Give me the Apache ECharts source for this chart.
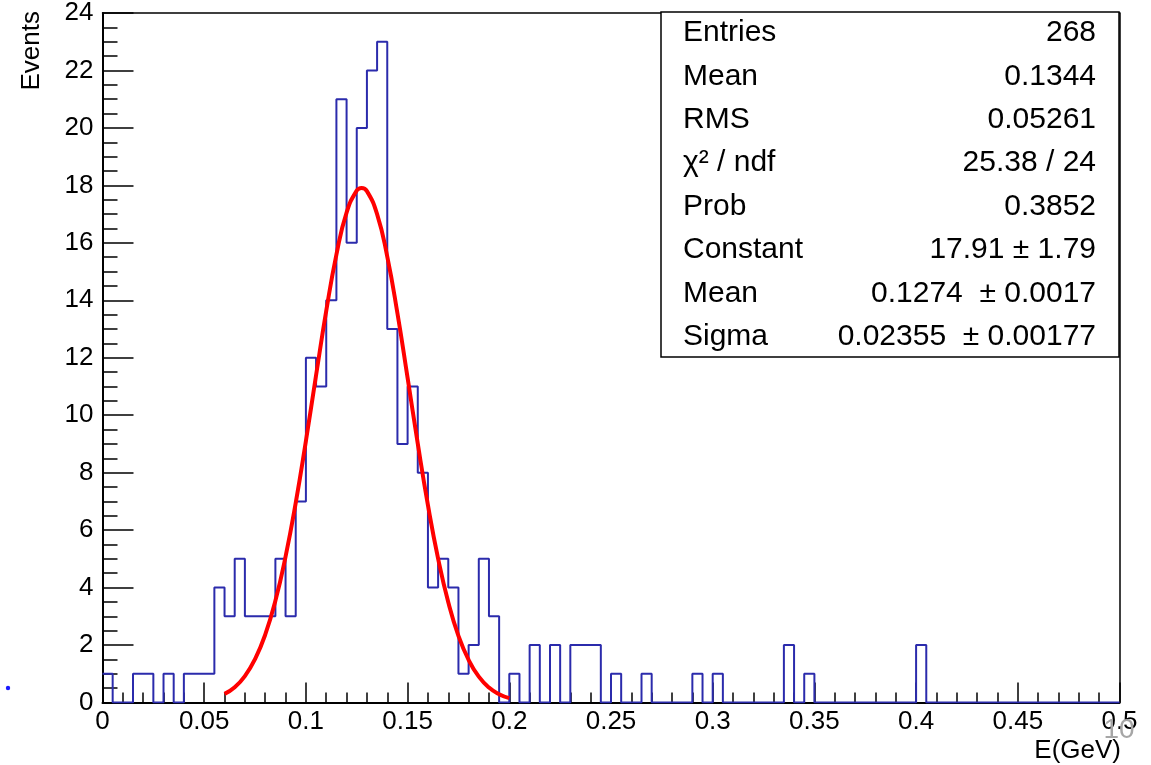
<!DOCTYPE html>
<html lang="en">
<head>
    <meta charset="UTF-8">
    <title>E(GeV) histogram with gaus fit</title>
    <script src="https://cdn.jsdelivr.net/npm/echarts/dist/echarts.min.js"></script>
    <style>
        html, body { margin: 0; padding: 0; background: #fff; }
    </style>
</head>
<body>
    <div id="main" style="width: 1151px;height:765px;"></div>
    <script type="text/javascript">
        // histogram: 100 bins, 0 -> 0.5 GeV
        let xMin = 0;
        let binWidth = 0.005;
        let binCounts = [
            1, 0, 0, 1, 1, 0, 1, 0, 1, 1,
            1, 4, 3, 5, 3, 3, 3, 5, 3, 7,
            12, 11, 14, 21, 16, 20, 22, 23, 13, 9,
            11, 8, 4, 5, 4, 1, 2, 5, 3, 0,
            1, 0, 2, 0, 2, 0, 2, 2, 2, 0,
            1, 0, 0, 1, 0, 0, 0, 0, 1, 0,
            1, 0, 0, 0, 0, 0, 0, 2, 0, 1,
            0, 0, 0, 0, 0, 0, 0, 0, 0, 0,
            2, 0, 0, 0, 0, 0, 0, 0, 0, 0,
            0, 0, 0, 0, 0, 0, 0, 0, 0, 0
        ];

        // red fit curve
        let fitX = [0.06, 0.065, 0.07, 0.075, 0.08, 0.085, 0.09, 0.095, 0.10, 0.105,
                    0.11, 0.115, 0.12, 0.125, 0.1274, 0.13, 0.135, 0.14, 0.145, 0.15,
                    0.155, 0.16, 0.165, 0.17, 0.175, 0.18, 0.185, 0.19, 0.195, 0.20];
        let fitY = [0.30, 0.53, 0.92, 1.51, 2.36, 3.54, 5.08, 6.95, 9.10, 11.39,
                    13.63, 15.59, 17.05, 17.82, 17.91, 17.80, 17.00, 15.52, 13.55, 11.30,
                    9.01, 6.87, 5.01, 3.49, 2.32, 1.48, 0.90, 0.52, 0.29, 0.15];

        // stats box
        let statNames = ['Entries', 'Mean', 'RMS', 'χ² / ndf', 'Prob', 'Constant', 'Mean', 'Sigma'];
        let statValues = ['268', '0.1344', '0.05261', '25.38 / 24', '0.3852', '17.91 ± 1.79', '0.1274  ± 0.0017', '0.02355  ± 0.00177'];

        let xTicks = { min: 0, max: 0.5, interval: 0.05 };
        let yTicks = { min: 0, max: 24, interval: 2 };

        var myChart = echarts.init(document.getElementById('main'));

        // step points at the left edge of each bin + closing point
        let histData = binCounts.map((v, i) => [xMin + i * binWidth, v]);
        histData.push([xMin + binCounts.length * binWidth, binCounts[binCounts.length - 1]]);
        let fitData = fitX.map((x, i) => [x, fitY[i]]);

        let font = 'Liberation Sans, Arial, sans-serif';

        // stats box texts
        let statTexts = [];
        let rowY0 = 33, rowStep = 43.4;
        for (let i = 0; i < statNames.length; i++) {
            statTexts.push({
                type: 'text', x: 683, y: rowY0 + i * rowStep, z: 101,
                style: { text: statNames[i], fontSize: 30, fontFamily: font, fill: '#000', align: 'left', verticalAlign: 'middle' }
            });
            statTexts.push({
                type: 'text', x: 1096, y: rowY0 + i * rowStep, z: 101,
                style: { text: statValues[i], fontSize: 30, fontFamily: font, fill: '#000', align: 'right', verticalAlign: 'middle' }
            });
        }

        let option = {
            animation: false,
            grid: { left: 102.5, right: 31.5, top: 12.5, bottom: 62.5 },
            xAxis: [
                {
                    type: 'value',
                    min: xTicks.min, max: xTicks.max, interval: xTicks.interval,
                    axisLine: { show: true, onZero: false, lineStyle: { color: '#000', width: 2 } },
                    axisTick: { show: true, inside: true, length: 20, lineStyle: { color: '#000', width: 1.5 } },
                    minorTick: { show: true, splitNumber: 5, length: 10, lineStyle: { color: '#000', width: 1.5 } },
                    splitLine: { show: false },
                    axisLabel: { color: '#000', fontSize: 26, fontFamily: font, margin: 6 }
                },
                {
                    // frame top
                    type: 'value', position: 'top',
                    min: xTicks.min, max: xTicks.max,
                    axisLine: { show: true, onZero: false, lineStyle: { color: '#000', width: 1.5 } },
                    axisTick: { show: false }, axisLabel: { show: false }, splitLine: { show: false }
                }
            ],
            yAxis: [
                {
                    type: 'value',
                    min: yTicks.min, max: yTicks.max, interval: yTicks.interval,
                    axisLine: { show: true, onZero: false, lineStyle: { color: '#000', width: 2 } },
                    axisTick: { show: true, inside: true, length: 31, lineStyle: { color: '#000', width: 1.5 } },
                    minorTick: { show: true, splitNumber: 4, length: 15, lineStyle: { color: '#000', width: 1.5 } },
                    splitLine: { show: false },
                    axisLabel: { color: '#000', fontSize: 26, fontFamily: font, margin: 9 }
                },
                {
                    // frame right
                    type: 'value', position: 'right',
                    min: yTicks.min, max: yTicks.max,
                    axisLine: { show: true, onZero: false, lineStyle: { color: '#000', width: 1.5 } },
                    axisTick: { show: false }, axisLabel: { show: false }, splitLine: { show: false }
                }
            ],
            series: [
                {
                    name: 'hist',
                    type: 'line',
                    step: 'end',
                    symbol: 'none',
                    data: histData,
                    lineStyle: { color: '#2b2bac', width: 2 },
                    z: 2
                },
                {
                    name: 'gaus',
                    type: 'line',
                    smooth: true,
                    symbol: 'none',
                    data: fitData,
                    lineStyle: { color: '#ff0000', width: 4 },
                    z: 3
                }
            ],
            graphic: [
                {
                    type: 'rect', z: 100,
                    shape: { x: 661, y: 12, width: 458, height: 345 },
                    style: { fill: '#fff', stroke: '#000', lineWidth: 1.5 }
                },
                ...statTexts,
                {
                    type: 'text', x: 32, y: 11, rotation: Math.PI / 2,
                    style: { text: 'Events', fontSize: 26, fontFamily: font, fill: '#000', align: 'right', verticalAlign: 'middle' }
                },
                {
                    type: 'text', x: 1121, y: 751,
                    style: { text: 'E(GeV)', fontSize: 26, fontFamily: font, fill: '#000', align: 'right', verticalAlign: 'middle' }
                },
                {
                    // slide page number
                    type: 'text', x: 1119, y: 730, z: 50,
                    style: { text: '10', fontSize: 28, fontFamily: font, fill: '#a6a6a6', align: 'center', verticalAlign: 'middle' }
                },
                {
                    type: 'circle', shape: { cx: 8, cy: 688, r: 2.2 },
                    style: { fill: '#1a1aff' }
                }
            ]
        };

        myChart.setOption(option);
    </script>
</body>
</html>
